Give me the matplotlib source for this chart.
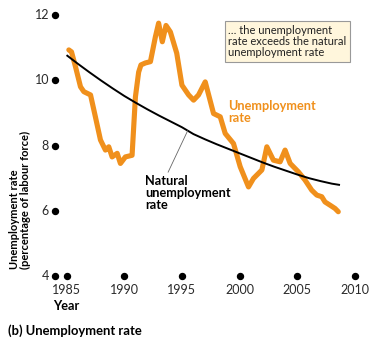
import matplotlib
matplotlib.use("Agg")
import matplotlib.pyplot as plt
import numpy as np

# Unemployment rate (percentage of labour force)
unemp_years = [1985.2, 1985.43, 1985.78, 1986.21, 1986.5, 1987.08, 1987.5, 1987.94,
               1988.37, 1988.66, 1988.95, 1989.39, 1989.67, 1990.1, 1990.68, 1990.97,
               1991.25, 1991.45, 1991.83, 1992.27, 1992.7, 1992.98, 1993.3, 1993.62,
               1994.0, 1994.55, 1995.0, 1995.58, 1996.01, 1996.44, 1997.02, 1997.74,
               1998.32, 1998.75, 1999.47, 2000.05, 2000.77, 2001.2, 2001.93, 2002.36,
               2002.93, 2003.51, 2003.94, 2004.38, 2005.1, 2005.67, 2006.25, 2006.69,
               2007.12, 2007.4, 2007.84, 2008.27, 2008.55]
unemp_rate = [10.93, 10.87, 10.41, 9.80, 9.65, 9.55, 8.88, 8.17,
              7.86, 7.96, 7.65, 7.76, 7.45, 7.65, 7.70, 9.49,
              10.25, 10.47, 10.53, 10.57, 11.33, 11.75, 11.18, 11.68,
              11.48, 10.83, 9.85, 9.55, 9.39, 9.55, 9.95, 8.98,
              8.88, 8.37, 8.06, 7.35, 6.73, 6.99, 7.25, 7.96,
              7.55, 7.50, 7.86, 7.45, 7.19, 6.94, 6.63, 6.48,
              6.43, 6.27, 6.17, 6.07, 5.97]

# Natural unemployment rate
natural_years = [1985, 1986, 1987, 1988, 1989, 1990, 1991, 1992, 1993, 1994,
                 1995, 1996, 1997, 1998, 1999, 2000, 2001, 2002, 2003, 2004,
                 2005, 2006, 2007, 2008, 2008.7]
natural_rate = [10.77, 10.50, 10.24, 9.99, 9.75, 9.52, 9.31, 9.11, 8.92, 8.74,
                8.56, 8.35, 8.19, 8.04, 7.90, 7.76, 7.62, 7.48, 7.35, 7.23,
                7.11, 7.00, 6.91, 6.83, 6.79]

x_ticks = [1985, 1990, 1995, 2000, 2005, 2010]
y_ticks = [4, 6, 8, 10, 12]

ORANGE = "#F0901C"
W, H = 371, 338
FONT = "Lato"

fig = plt.figure(figsize=(W / 100, H / 100), dpi=100)


def fx(px):
    return px / W


def fy(py):
    return 1 - py / H


ax = fig.add_axes([fx(55), fy(276), (355 - 55) / W, (276 - 15) / H])
ax.set_xlim(1984, 2010)
ax.set_ylim(4, 12)
ax.axis("off")

ax.plot(natural_years, natural_rate, color="black", lw=1.4, zorder=3,
        solid_capstyle="butt")
ax.plot(unemp_years, unemp_rate, color=ORANGE, lw=3.7, zorder=2,
        solid_joinstyle="round", solid_capstyle="round")

# Dot-style ticks on both axes
ax.plot([1984] * len(y_ticks), y_ticks, "o", color="black", ms=4.3,
        clip_on=False, zorder=4)
ax.plot(x_ticks, [4] * len(x_ticks), "o", color="black", ms=4.3,
        clip_on=False, zorder=4)

for v in y_ticks:
    ax.annotate(str(v), xy=(1984, v), xytext=(-6, 0), textcoords="offset pixels",
                ha="right", va="center", fontsize=9, family=FONT, color="#2a2a2a")
for v in x_ticks:
    ax.annotate(str(v), xy=(v, 4), xytext=(0, -14), textcoords="offset pixels",
                ha="center", va="center", fontsize=9, family=FONT, color="#2a2a2a")

# Axis titles
fig.text(fx(53), fy(306), "Year", ha="left", va="center", fontsize=9.2,
         fontweight="bold", family=FONT)
fig.text(fx(20), fy(200), "Unemployment rate\n(percentage of labour force)",
         rotation=90, ha="center", va="center", fontsize=8, fontweight="bold",
         family=FONT, linespacing=1.05, multialignment="left",
         rotation_mode="anchor")
fig.text(fx(8), fy(331), "(b) Unemployment rate", ha="left", va="center",
         fontsize=9.4, fontweight="bold", family=FONT)

# Series labels
fig.text(fx(228), fy(112), "Unemployment\nrate", ha="left", va="center",
         fontsize=9.2, fontweight="bold", color=ORANGE, family=FONT,
         linespacing=1.05)
fig.text(fx(145), fy(193), "Natural\nunemployment\nrate", ha="left", va="center",
         fontsize=9.2, fontweight="bold", color="black", family=FONT,
         linespacing=1.0)

# Leader line from the label to the natural rate curve
x_hit = 1995.5
ax.annotate("", xy=(x_hit, np.interp(x_hit, natural_years, natural_rate)),
            xytext=(1993.8, 7.18),
            arrowprops=dict(arrowstyle="-", color="#666666", lw=0.6,
                            shrinkA=0, shrinkB=0))

# Callout box
fig.text(fx(228), fy(41.5),
         "\u2026 the unemployment\nrate exceeds the natural\nunemployment rate",
         ha="left", va="center", fontsize=8, family=FONT, linespacing=1.05,
         color="#222222",
         bbox=dict(boxstyle="square,pad=0.3", facecolor="#FFF6DC",
                   edgecolor="#999999", lw=0.8))

fig.savefig("out.png", dpi=100)
